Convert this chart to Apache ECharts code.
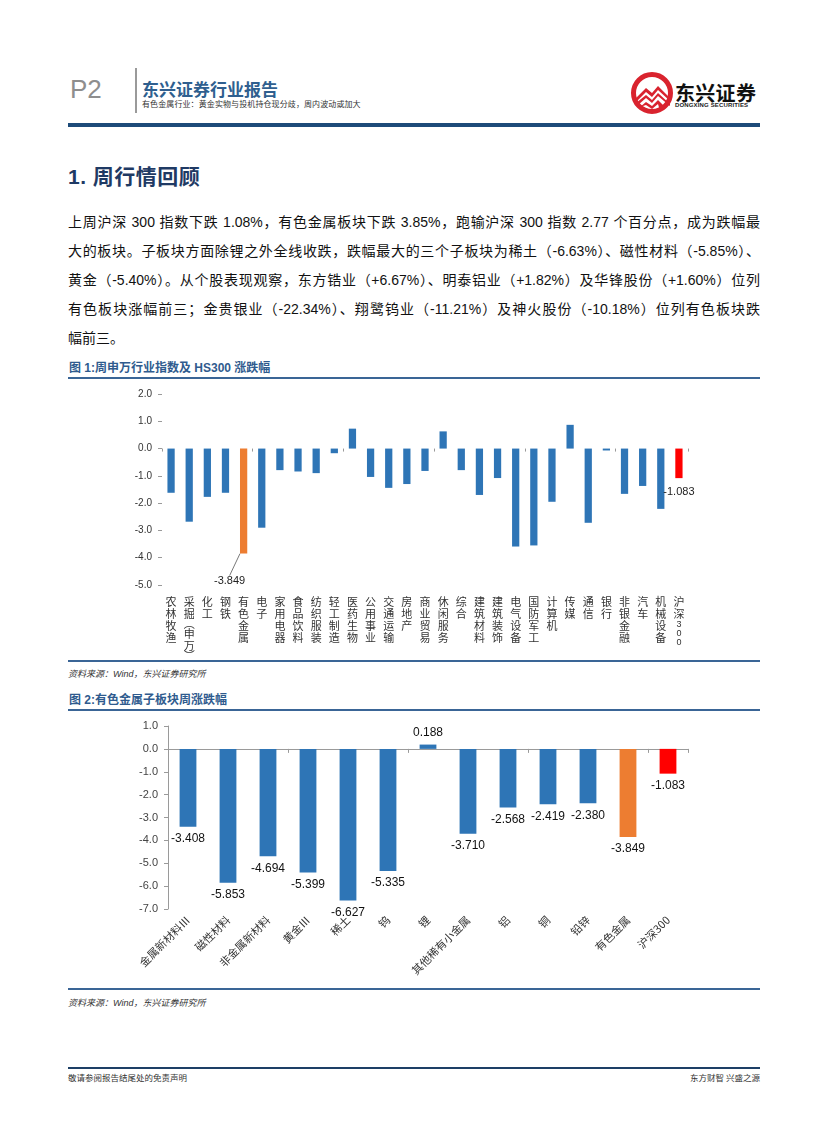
<!DOCTYPE html>
<html>
<head>
<meta charset="utf-8">
<script src="https://cdn.jsdelivr.net/npm/echarts@6/dist/echarts.min.js"></script>
<style>
  html,body{margin:0;padding:0;background:#fff;}
  body{width:827px;height:1122px;position:relative;overflow:hidden;font-family:"Liberation Sans","Noto Sans CJK SC",sans-serif;color:#222;}
  .abs{position:absolute;}
  .para{position:absolute;left:68px;width:692px;font-size:14px;line-height:29px;height:29px;white-space:nowrap;text-align:justify;text-align-last:justify;color:#111;}
  .figt{position:absolute;left:69px;font-size:12px;font-weight:bold;color:#2f5b8e;}
  .rule{position:absolute;left:68px;width:692px;height:2px;background:#3a6596;}
  .src{position:absolute;left:68px;font-size:9px;font-style:italic;color:#333;}
</style>
</head>
<body>
<div class="abs" style="left:70px;top:74px;font-size:26px;color:#8e8e8e;font-family:'Liberation Sans Narrow','Liberation Sans',sans-serif;">P2</div>
<div class="abs" style="left:135px;top:68px;width:2px;height:45px;background:#9a9a9a;"></div>
<div class="abs" style="left:142px;top:76px;font-size:17px;font-weight:bold;color:#2f5f8f;font-family:'Noto Sans CJK SC';">东兴证券行业报告</div>
<div class="abs" style="left:142px;top:98px;font-size:8px;color:#333;letter-spacing:0.1px;font-family:'Noto Sans CJK SC';">有色金属行业：黄金实物与投机持仓现分歧，周内波动或加大</div>
<svg class="abs" style="left:630px;top:71px;" width="46" height="46" viewBox="0 0 46 46">
  <circle cx="22" cy="22" r="18.5" fill="#fff" stroke="#d9232e" stroke-width="5"/>
  <path d="M6 27 L16 17 L22 22 L28 15 L40 27 L40 30 L28 19 L22 26 L16 21 L6 31 Z" fill="#d9232e"/>
  <path d="M6 32 L16 24 L22 29 L28 22 L40 33 L40 35 L28 25 L22 32 L16 27 L8 34 Z" fill="#d9232e"/>
  <path d="M10 36 L16 31 L22 35 L28 29 L36 37 L30 40 L28 33 L22 38 L16 34 Z" fill="#d9232e"/>
</svg>
<div class="abs" style="left:675px;top:78px;font-size:20px;font-weight:bold;color:#111;font-family:'Noto Sans CJK SC';letter-spacing:0.3px;">东兴证券</div>
<div class="abs" style="left:675px;top:102px;font-size:6px;font-weight:bold;color:#222;letter-spacing:0.15px;">DONGXING SECURITIES</div>
<div class="abs" style="left:68px;top:123px;width:692px;height:4px;background:#1d4b79;"></div>

<div class="abs" style="left:68px;top:160px;font-size:21px;font-weight:bold;color:#1f3a64;font-family:'Liberation Sans','Noto Sans CJK SC';letter-spacing:0.5px;">1. 周行情回顾</div>

<div class="para" style="top:208px;">上周沪深 300 指数下跌 1.08%，有色金属板块下跌 3.85%，跑输沪深 300 指数 2.77 个百分点，成为跌幅最</div>
<div class="para" style="top:237px;">大的板块。子板块方面除锂之外全线收跌，跌幅最大的三个子板块为稀土（-6.63%）、磁性材料（-5.85%）、</div>
<div class="para" style="top:266px;">黄金（-5.40%）。从个股表现观察，东方锆业（+6.67%）、明泰铝业（+1.82%）及华锋股份（+1.60%）位列</div>
<div class="para" style="top:295px;">有色板块涨幅前三；金贵银业（-22.34%）、翔鹭钨业（-11.21%）及神火股份（-10.18%）位列有色板块跌</div>
<div class="para" style="top:324px;text-align-last:left;">幅前三。</div>

<div class="figt" style="top:358px;">图 1:周申万行业指数及 HS300 涨跌幅</div>
<div class="rule" style="top:377px;"></div>
<div id="c1" class="abs" style="left:60px;top:385px;width:700px;height:270px;"></div>
<div class="rule" style="top:660px;"></div>
<div class="src" style="top:667px;">资料来源：Wind，东兴证券研究所</div>

<div class="figt" style="top:690px;">图 2:有色金属子板块周涨跌幅</div>
<div class="rule" style="top:709px;"></div>
<div id="c2" class="abs" style="left:60px;top:715px;width:700px;height:270px;"></div>
<div class="rule" style="top:988px;"></div>
<div class="src" style="top:996px;">资料来源：Wind，东兴证券研究所</div>

<div class="abs" style="left:68px;top:1067px;width:692px;height:2px;background:#1d3f66;"></div>
<div class="abs" style="left:68px;top:1071px;font-size:8.5px;color:#333;font-family:'Noto Sans CJK SC';">敬请参阅报告结尾处的免责声明</div>
<div class="abs" style="left:660px;width:100px;text-align:right;top:1071px;font-size:8.5px;color:#333;font-family:'Noto Sans CJK SC';">东方财智 兴盛之源</div>

<script>
// ---------- data ----------
const cats1 = ['农林牧渔','采掘(申万)','化工','钢铁','有色金属','电子','家用电器','食品饮料','纺织服装','轻工制造','医药生物','公用事业','交通运输','房地产','商业贸易','休闲服务','综合','建筑材料','建筑装饰','电气设备','国防军工','计算机','传媒','通信','银行','非银金融','汽车','机械设备','沪深300'];
const vals1 = [-1.62,-2.68,-1.77,-1.62,-3.849,-2.90,-0.79,-0.84,-0.90,-0.17,0.73,-1.04,-1.44,-1.30,-0.82,0.63,-0.79,-1.70,-1.08,-3.59,-3.55,-1.95,0.87,-2.72,-0.07,-1.66,-1.37,-2.21,-1.083];
const labeled1 = ['有色金属','沪深300'];

const cats2 = ['金属新材料Ⅲ','磁性材料','非金属新材料','黄金Ⅲ','稀土','钨','锂','其他稀有小金属','铝','铜','铅锌','有色金属','沪深300'];
const vals2 = [-3.408,-5.853,-4.694,-5.399,-6.627,-5.335,0.188,-3.710,-2.568,-2.419,-2.380,-3.849,-1.083];

const BLUE = '#2e75b6', ORANGE = '#ed7d31', RED = '#ff0000';
function colorFor(name){ return name === '有色金属' ? ORANGE : (name === '沪深300' ? RED : BLUE); }

// vertical (stacked) category label: CJK upright, brackets as vertical forms, digits compact
function verticalLabel(v){
  return v.split('').map(ch => {
    if (ch === '(') return '{p|︵}';
    if (ch === ')') return '{p|︶}';
    if (/[0-9]/.test(ch)) return '{d|' + ch + '}';
    return '{c|' + ch + '}';
  }).join('\n');
}

// ---------- chart 1 ----------
const c1 = echarts.init(document.getElementById('c1'));
c1.setOption({
  animation: false,
  grid: {left: 102, right: 72, top: 9, bottom: 70, outerBoundsMode: 'none', containLabel: false},
  xAxis: [
    {type: 'category', data: cats1, position: 'bottom',
     axisLine: {show: false, onZero: false}, axisTick: {show: false},
     axisLabel: {interval: 0, margin: 11, color: '#333', hideOverlap: false,
       formatter: verticalLabel,
       rich: {
         c: {fontSize: 11, lineHeight: 12, fontFamily: 'Noto Sans CJK SC', color: '#333'},
         p: {fontSize: 11, lineHeight: 8, fontFamily: 'Noto Sans CJK SC', color: '#333'},
         d: {fontSize: 9, lineHeight: 9, color: '#333'}
       }}},
    {type: 'category', data: cats1, position: 'bottom',
     axisLine: {show: false, onZero: true},
     axisTick: {show: true, length: 3, lineStyle: {color: '#9a9a9a'}},
     axisLabel: {show: false}}
  ],
  yAxis: {type: 'value', min: -5, max: 2, interval: 1,
    axisLine: {show: false},
    axisTick: {show: true, length: 4, lineStyle: {color: '#9a9a9a'}},
    splitLine: {show: false},
    axisLabel: {formatter: v => v.toFixed(1), fontSize: 10, color: '#333', margin: 10}},
  series: [{
    type: 'bar', xAxisIndex: 0, barWidth: '40%',
    data: vals1.map((v, i) => ({
      value: v,
      itemStyle: {color: colorFor(cats1[i])},
      label: labeled1.includes(cats1[i]) ? {show: true, position: 'bottom', distance: 8} : {show: false},
      labelLine: {show: cats1[i] === '有色金属', lineStyle: {color: '#555', width: 0.8}}
    })),
    label: {fontSize: 11, color: '#222', formatter: p => p.value.toFixed(3)},
    labelLayout: p => (p.dataIndex === 4 ? {dx: -14, dy: 14} : {}),
    labelLine: {show: true, lineStyle: {color: '#555', width: 0.8}}
  }]
});

// ---------- chart 2 ----------
const c2 = echarts.init(document.getElementById('c2'));
c2.setOption({
  animation: false,
  grid: {left: 108, right: 72, top: 11, bottom: 76, outerBoundsMode: 'none', containLabel: false},
  xAxis: [
    {type: 'category', data: cats2, position: 'bottom',
     axisLine: {show: false, onZero: false}, axisTick: {show: false},
     axisLabel: {interval: 0, rotate: 45, margin: 9, fontSize: 11, color: '#333', fontFamily: 'Noto Sans CJK SC', hideOverlap: false}},
    {type: 'category', data: cats2, position: 'bottom',
     axisLine: {show: true, onZero: true, lineStyle: {color: '#9a9a9a'}},
     axisTick: {show: true, length: 4, lineStyle: {color: '#9a9a9a'}},
     axisLabel: {show: false}}
  ],
  yAxis: {type: 'value', min: -7, max: 1, interval: 1,
    axisLine: {show: true, lineStyle: {color: '#9a9a9a'}},
    axisTick: {show: true, length: 4, lineStyle: {color: '#9a9a9a'}},
    splitLine: {show: false},
    axisLabel: {formatter: v => v.toFixed(1), fontSize: 11, color: '#444', margin: 10}},
  series: [{
    type: 'bar', xAxisIndex: 0, barWidth: '42%',
    data: vals2.map((v, i) => ({
      value: v,
      itemStyle: {color: colorFor(cats2[i])},
      label: {position: v < 0 ? 'bottom' : 'top'}
    })),
    label: {show: true, fontSize: 12, color: '#111', distance: 6, formatter: p => p.value.toFixed(3)}
  }]
});
</script>
</body>
</html>
